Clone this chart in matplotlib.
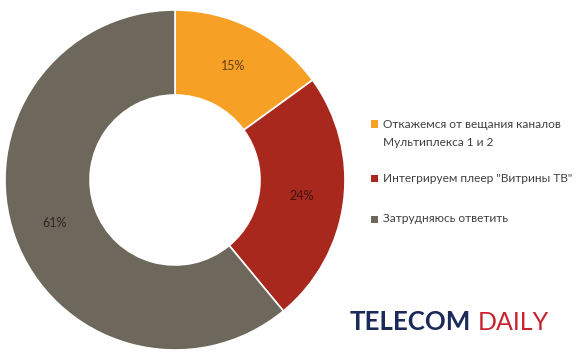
import matplotlib
matplotlib.use("Agg")
import matplotlib.pyplot as plt
from matplotlib.patches import Rectangle

labels = ["Откажемся от вещания каналов\nМультиплекса 1 и 2",
          "Интегрируем плеер \"Витрины ТВ\"",
          "Затрудняюсь ответить"]
values = [15, 24, 61]
colors = ["#F6A126", "#A8281E", "#6E675B"]

W, H = 588, 359
fig = plt.figure(figsize=(W/100, H/100), dpi=100)
fig.patch.set_facecolor("white")

cx, cy, R = 175, 180, 170
ax = fig.add_axes([(cx - R)/W, (H - cy - R)/H, 2*R/W, 2*R/H])
wedges, texts, autotexts = ax.pie(
    values, colors=colors, startangle=90, counterclock=False,
    radius=1.0, autopct=lambda p: f"{p:.0f}%", pctdistance=0.75,
    wedgeprops=dict(width=0.5, edgecolor="white", linewidth=1.2),
    textprops=dict(fontsize=9, color="black", alpha=0.6, family="Lato"))
ax.set_aspect("equal")
ax.set_xlim(-1.0, 1.0)
ax.set_ylim(-1.0, 1.0)

# legend (manual)
sq = 7
rows = [123, 177, 218]
line_gap = 19
for lab, col, y in zip(labels, colors, rows):
    fig.patches.append(Rectangle(((374.5 - sq/2)/W, (H - y - 1 - sq/2)/H), sq/W, sq/H,
                                 transform=fig.transFigure, facecolor=col,
                                 edgecolor="none"))
    for i, line in enumerate(lab.split("\n")):
        fig.text(383/W, (H - y - i*line_gap)/H, line, fontsize=8.6, color="#404040",
                 family="Lato", va="center_baseline", ha="left")

# logo
t1 = fig.text(350/W, (H - 330)/H, "TELECOM", fontsize=18.6, fontweight="bold",
              color="#1B2A58", family="Lato", va="baseline", ha="left")
fig.canvas.draw()
bb = t1.get_window_extent()
fig.text((bb.x1 + 6)/W, (H - 330)/H, "DAILY", fontsize=18,
         color="#C8222F", family="Lato", va="baseline", ha="left")

fig.savefig("out.png", dpi=100, facecolor="white")
